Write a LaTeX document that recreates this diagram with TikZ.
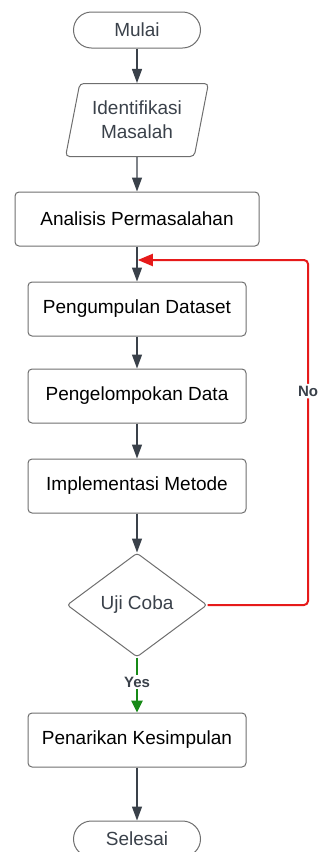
\documentclass[tikz,border=0pt]{standalone}
\usepackage{fontspec}
\setmainfont{Liberation Sans}
\usetikzlibrary{shapes.geometric,arrows.meta}
\definecolor{linegray}{HTML}{3A414A}
\definecolor{boxgray}{HTML}{6E6E6E}
\definecolor{noRed}{HTML}{E61A1A}
\definecolor{yesGreen}{HTML}{178A17}
\tikzset{
    terminal/.style={draw=boxgray, line width=1pt, rounded corners=18pt, minimum width=127pt, minimum height=36pt, text=linegray, font=\fontsize{19}{22}\selectfont},
    process/.style={draw=boxgray, line width=1pt, rounded corners=4pt, minimum height=54pt, font=\fontsize{19}{22}\selectfont},
    inputbox/.style={draw=boxgray, line width=1pt, trapezium, trapezium left angle=75, trapezium right angle=105, trapezium stretches=true, rounded corners=4pt, minimum width=143pt, minimum height=73pt, text=linegray, align=center, font=\fontsize{19}{24}\selectfont},
    decision/.style={draw=boxgray, line width=1pt, diamond, rounded corners=3pt, minimum width=140pt, minimum height=104pt, inner sep=0pt, text=linegray, font=\fontsize{19}{22}\selectfont},
    flow/.style={draw=linegray, line width=1.3pt, -{Triangle[length=14pt, width=10pt]}},
    tag/.style={fill=white, inner sep=2pt, font=\fontsize{15}{17}\selectfont\bfseries, text=linegray}
}
\begin{document}
\begin{tikzpicture}[x=1pt, y=-1pt]
            \useasboundingbox (0,0) rectangle (320,852);
            \node[terminal] (mulai) at (137,30) {Mulai};
            \node[inputbox] (identifikasi) at (137,120) {Identifikasi\\Masalah};
            \node[process, minimum width=244pt] (analisis) at (137,219) {Analisis Permasalahan};
            \node[process, minimum width=218pt] (pengumpulan) at (137,309) {Pengumpulan Dataset};
            \node[process, minimum width=218pt] (pengelompokan) at (137,396) {Pengelompokan Data};
            \node[process, minimum width=218pt] (implementasi) at (137,486) {Implementasi Metode};
            \node[decision] (uji) at (137,605) {Uji Coba};
            \node[process, minimum width=218pt] (penarikan) at (137,740) {Penarikan Kesimpulan};
            \node[terminal] (selesai) at (137,839) {Selesai};
            \coordinate (join) at (137,260);
            \draw[flow] (mulai) -- (identifikasi);
            \draw[flow] (identifikasi) -- (analisis);
            \draw[flow] (analisis) -- (pengumpulan);
            \draw[flow] (pengumpulan) -- (pengelompokan);
            \draw[flow] (pengelompokan) -- (implementasi);
            \draw[flow] (implementasi) -- (uji);
            \draw[flow, draw=yesGreen, line width=2.5pt, -{Triangle[length=12pt, width=11pt]}] (uji) -- (penarikan) node[tag, pos=0.45]{Yes};
            \draw[flow] (penarikan) -- (selesai);
            \draw[flow, draw=noRed, line width=2pt, rounded corners=4pt, -{Triangle[length=15pt, width=12pt]}] (uji.east) -- (308,605) -- (308,260) node[tag, pos=0.62]{No} -- ([xshift=0.8pt]join);
        \end{tikzpicture}
\end{document}
